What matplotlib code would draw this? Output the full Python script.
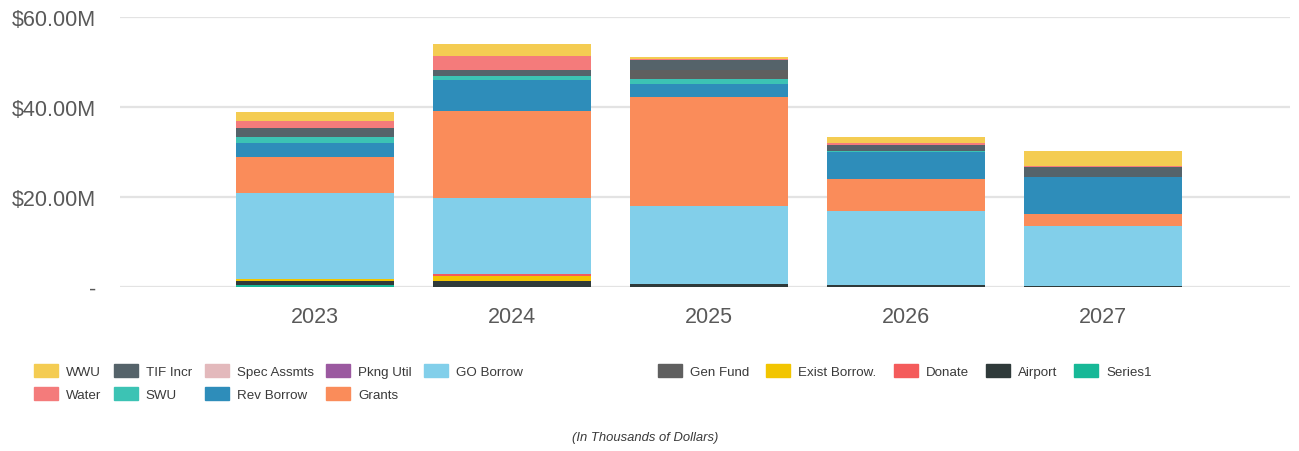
import matplotlib.pyplot as plt
import matplotlib.patches as mpatches
from matplotlib import font_manager
import numpy as np

# pick a narrow font for the legend if present
try:
    font_manager.findfont("Liberation Sans Narrow", fallback_to_default=False)
    legend_family = "Liberation Sans Narrow"
except Exception:
    legend_family = "Liberation Sans"

plt.rcParams["font.family"] = "Liberation Sans"

years = ["2023", "2024", "2025", "2026", "2027"]

# values in $M, stacked bottom -> top
series1     = [0.4, 0.0, 0.0, 0.0, 0.0]
airport     = [0.9, 1.3, 0.7, 0.5, 0.3]
exist_borr  = [0.4, 1.2, 0.0, 0.0, 0.0]
donate      = [0.0, 0.3, 0.0, 0.0, 0.0]
go_borrow   = [19.3, 17.0, 17.3, 16.3, 13.3]
grants      = [8.0, 19.3, 24.3, 7.2, 2.7]
rev_borrow  = [3.1, 7.0, 2.9, 6.1, 8.1]
swu         = [1.3, 0.7, 1.1, 0.15, 0.1]
gen_fund    = [0.0, 0.0, 2.0, 0.0, 0.0]
tif_incr    = [2.0, 1.5, 2.1, 1.4, 2.1]
pkng_util   = [0.0, 0.0, 0.0, 0.0, 0.0]
spec_assmts = [0.0, 0.0, 0.0, 0.0, 0.0]
water       = [1.4, 3.0, 0.3, 0.3, 0.3]
wwu         = [2.0, 2.8, 0.45, 1.3, 3.4]

colors = {
    "WWU": "#F4CC52", "Water": "#F47B7B", "TIF Incr": "#55636A",
    "SWU": "#3CC3B4", "Spec Assmts": "#E3B9BC", "Rev Borrow": "#2E8DBA",
    "Pkng Util": "#9B59A0", "Grants": "#FA8C5A", "GO Borrow": "#82CFEA",
    "Gen Fund": "#5F5F5F", "Exist Borrow.": "#F2C500", "Donate": "#F45B5B",
    "Airport": "#2F3A3A", "Series1": "#17B897",
}

stack = [
    ("Series1", series1), ("Airport", airport), ("Exist Borrow.", exist_borr),
    ("Donate", donate), ("GO Borrow", go_borrow), ("Grants", grants),
    ("Rev Borrow", rev_borrow), ("SWU", swu), ("Gen Fund", gen_fund),
    ("TIF Incr", tif_incr), ("Pkng Util", pkng_util),
    ("Spec Assmts", spec_assmts), ("Water", water), ("WWU", wwu),
]

fig = plt.figure(figsize=(12.99, 4.52), dpi=100)
ax = fig.add_axes([0.0924, 0.3628, 0.9006, 0.5972])

x = np.arange(len(years))
bottom = np.zeros(len(years))
for name, vals in stack:
    vals = np.array(vals)
    ax.bar(x, vals, 0.8, bottom=bottom, color=colors[name], linewidth=0, zorder=3)
    bottom += vals

ax.set_xlim(-0.99, 4.95)
ax.set_ylim(0, 60)
ax.set_yticks([0, 20, 40, 60])
ax.set_yticklabels(["-", "$20.00M", "$40.00M", "$60.00M"])
ax.set_xticks(x)
ax.set_xticklabels(years)
ax.grid(axis="y", color="#E3E3E3", linewidth=1.6, zorder=0)
for s in ax.spines.values():
    s.set_visible(False)
ax.tick_params(axis="both", length=0, labelsize=15.5, labelcolor="#595959")
ax.tick_params(axis="y", pad=17)
ax.tick_params(axis="x", pad=14)

# legend, two blocks
order1 = ["WWU", "Water", "TIF Incr", "SWU", "Spec Assmts", "Rev Borrow",
          "Pkng Util", "Grants", "GO Borrow"]
order2 = ["Gen Fund", "Exist Borrow.", "Donate", "Airport", "Series1"]

lfs = 9.6
px = lfs * 100 / 72
kw = dict(frameon=False, loc="upper left", borderpad=0, borderaxespad=0,
          handlelength=24 / px, handleheight=15 / px, handletextpad=8 / px,
          labelspacing=0.7, prop={"family": legend_family, "size": lfs},
          labelcolor="#3A3A3A")

h1 = [mpatches.Patch(color=colors[n]) for n in order1]
fig.legend(h1, order1, ncol=5, columnspacing=12.5 / px,
           bbox_to_anchor=(34 / 1299, 1 - 365 / 452), **kw)
h2 = [mpatches.Patch(color=colors[n]) for n in order2]
fig.legend(h2, order2, ncol=5, columnspacing=17 / px,
           bbox_to_anchor=(658 / 1299, 1 - 365 / 452), **kw)

fig.text(645 / 1299, 1 - 438 / 452, "(In Thousands of Dollars)", ha="center", va="center",
         fontsize=9.4, style="italic", color="#3A3A3A", family=legend_family)

fig.savefig("out.png", dpi=100)
